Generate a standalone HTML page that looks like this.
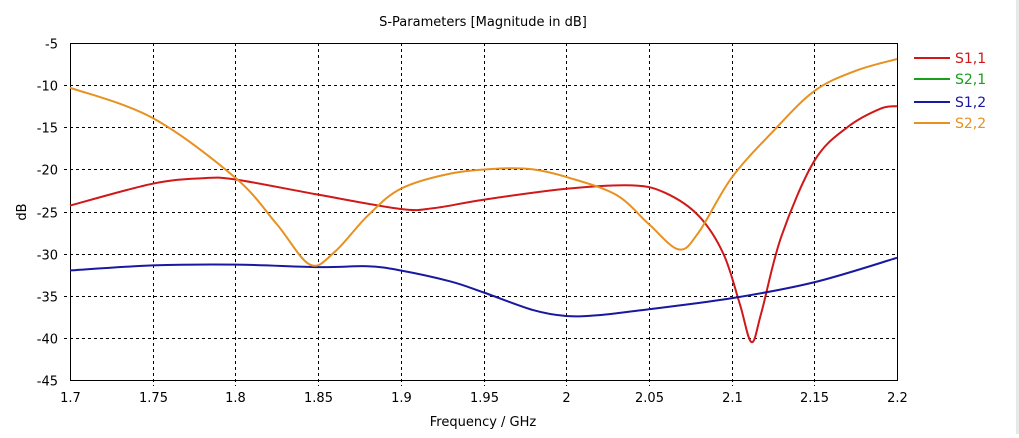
<!DOCTYPE html><html><head><style>body{margin:0;background:#fff;width:1019px;height:434px;overflow:hidden;font-family:"DejaVu Sans","Liberation Sans",sans-serif}</style></head><body>
<svg id="s" width="1019" height="434" xmlns="http://www.w3.org/2000/svg" font-family="DejaVu Sans, Liberation Sans, sans-serif" font-size="13">
<rect x="1016" y="0" width="3" height="434" fill="#e8e8e8"/>
<text x="483" y="26" text-anchor="middle" font-size="13">S-Parameters [Magnitude in dB]</text>
<g id="grid" stroke="#000" stroke-dasharray="3,3" stroke-width="1"></g>
<rect x="70.5" y="43.5" width="827" height="337" fill="none" stroke="#000"/>
<g id="lab"></g>
<text x="483" y="426" text-anchor="middle">Frequency / GHz</text>
<text x="26" y="212" text-anchor="middle" transform="rotate(-90 26 212)">dB</text>
<g id="curves" fill="none" stroke-width="2"></g>
<g font-size="14">
<line x1="914" y1="58" x2="950" y2="58" stroke="#d01818" stroke-width="2"/><text x="955" y="63" fill="#d01818">S1,1</text>
<line x1="914" y1="79" x2="950" y2="79" stroke="#18a018" stroke-width="2"/><text x="955" y="84" fill="#18a018">S2,1</text>
<line x1="914" y1="102" x2="950" y2="102" stroke="#1818a0" stroke-width="2"/><text x="955" y="107" fill="#1818a0">S1,2</text>
<line x1="914" y1="123" x2="950" y2="123" stroke="#e89020" stroke-width="2"/><text x="955" y="128" fill="#e89020">S2,2</text>
</g>
</svg>
<script>
var X=f=>70+(f-1.7)/0.5*827, Y=d=>43+(-5-d)*8.425;
var g=document.getElementById('grid'),l=document.getElementById('lab'),ns='http://www.w3.org/2000/svg';
function el(p,t,a,txt){var e=document.createElementNS(ns,t);for(var k in a)e.setAttribute(k,a[k]);if(txt)e.textContent=txt;p.appendChild(e);}
for(var i=0;i<=10;i++){var f=1.7+i*0.05,x=Math.round(X(f))+0.5;if(i>0&&i<10)el(g,'line',{x1:x,x2:x,y1:43,y2:386});
el(l,'text',{x:x,y:402,'text-anchor':'middle'},(+f.toFixed(2)).toString());}
for(var i=0;i<=8;i++){var d=-5-5*i,y=Math.round(Y(d))+0.5;if(i>0&&i<8)el(g,'line',{x1:64,x2:897,y1:y,y2:y});
el(l,'text',{x:58,y:y+5,'text-anchor':'end'},d);}
var S={
'#d01818':[[1.7,-24.3],[1.75,-21.7],[1.78,-21.05],[1.8,-21.2],[1.85,-23],[1.9,-24.7],[1.92,-24.6],[1.95,-23.6],[2.0,-22.3],[2.04,-21.9],[2.06,-22.8],[2.08,-25.5],[2.095,-30],[2.105,-36],[2.112,-40.5],[2.118,-37],[2.13,-28],[2.15,-19],[2.17,-15],[2.19,-12.8],[2.2,-12.5]],
'#1818a0':[[1.7,-32],[1.75,-31.4],[1.8,-31.3],[1.85,-31.6],[1.88,-31.5],[1.9,-32],[1.93,-33.3],[1.95,-34.6],[1.98,-36.7],[2.0,-37.4],[2.02,-37.3],[2.05,-36.6],[2.1,-35.3],[2.15,-33.4],[2.2,-30.5]],
'#e89020':[[1.7,-10.3],[1.75,-13.9],[1.8,-21],[1.825,-26.5],[1.845,-31.3],[1.86,-29.8],[1.88,-25.5],[1.9,-22.3],[1.93,-20.5],[1.96,-19.9],[1.98,-20],[2.0,-20.9],[2.03,-23],[2.05,-26.5],[2.068,-29.5],[2.08,-27.5],[2.1,-21],[2.125,-15.5],[2.15,-10.7],[2.175,-8.3],[2.2,-6.9]]};
var c=document.getElementById('curves');
for(var col in S){var p=S[col].map(a=>[X(a[0]),Y(a[1])]),d='M'+p[0];
for(var i=0;i<p.length-1;i++){var p0=p[i-1]||p[i],p1=p[i],p2=p[i+1],p3=p[i+2]||p2;
d+=' C'+(p1[0]+(p2[0]-p0[0])/6)+','+(p1[1]+(p2[1]-p0[1])/6)+' '+(p2[0]-(p3[0]-p1[0])/6)+','+(p2[1]-(p3[1]-p1[1])/6)+' '+p2;}
el(c,'path',{d:d,stroke:col});}
</script>
</body></html>
